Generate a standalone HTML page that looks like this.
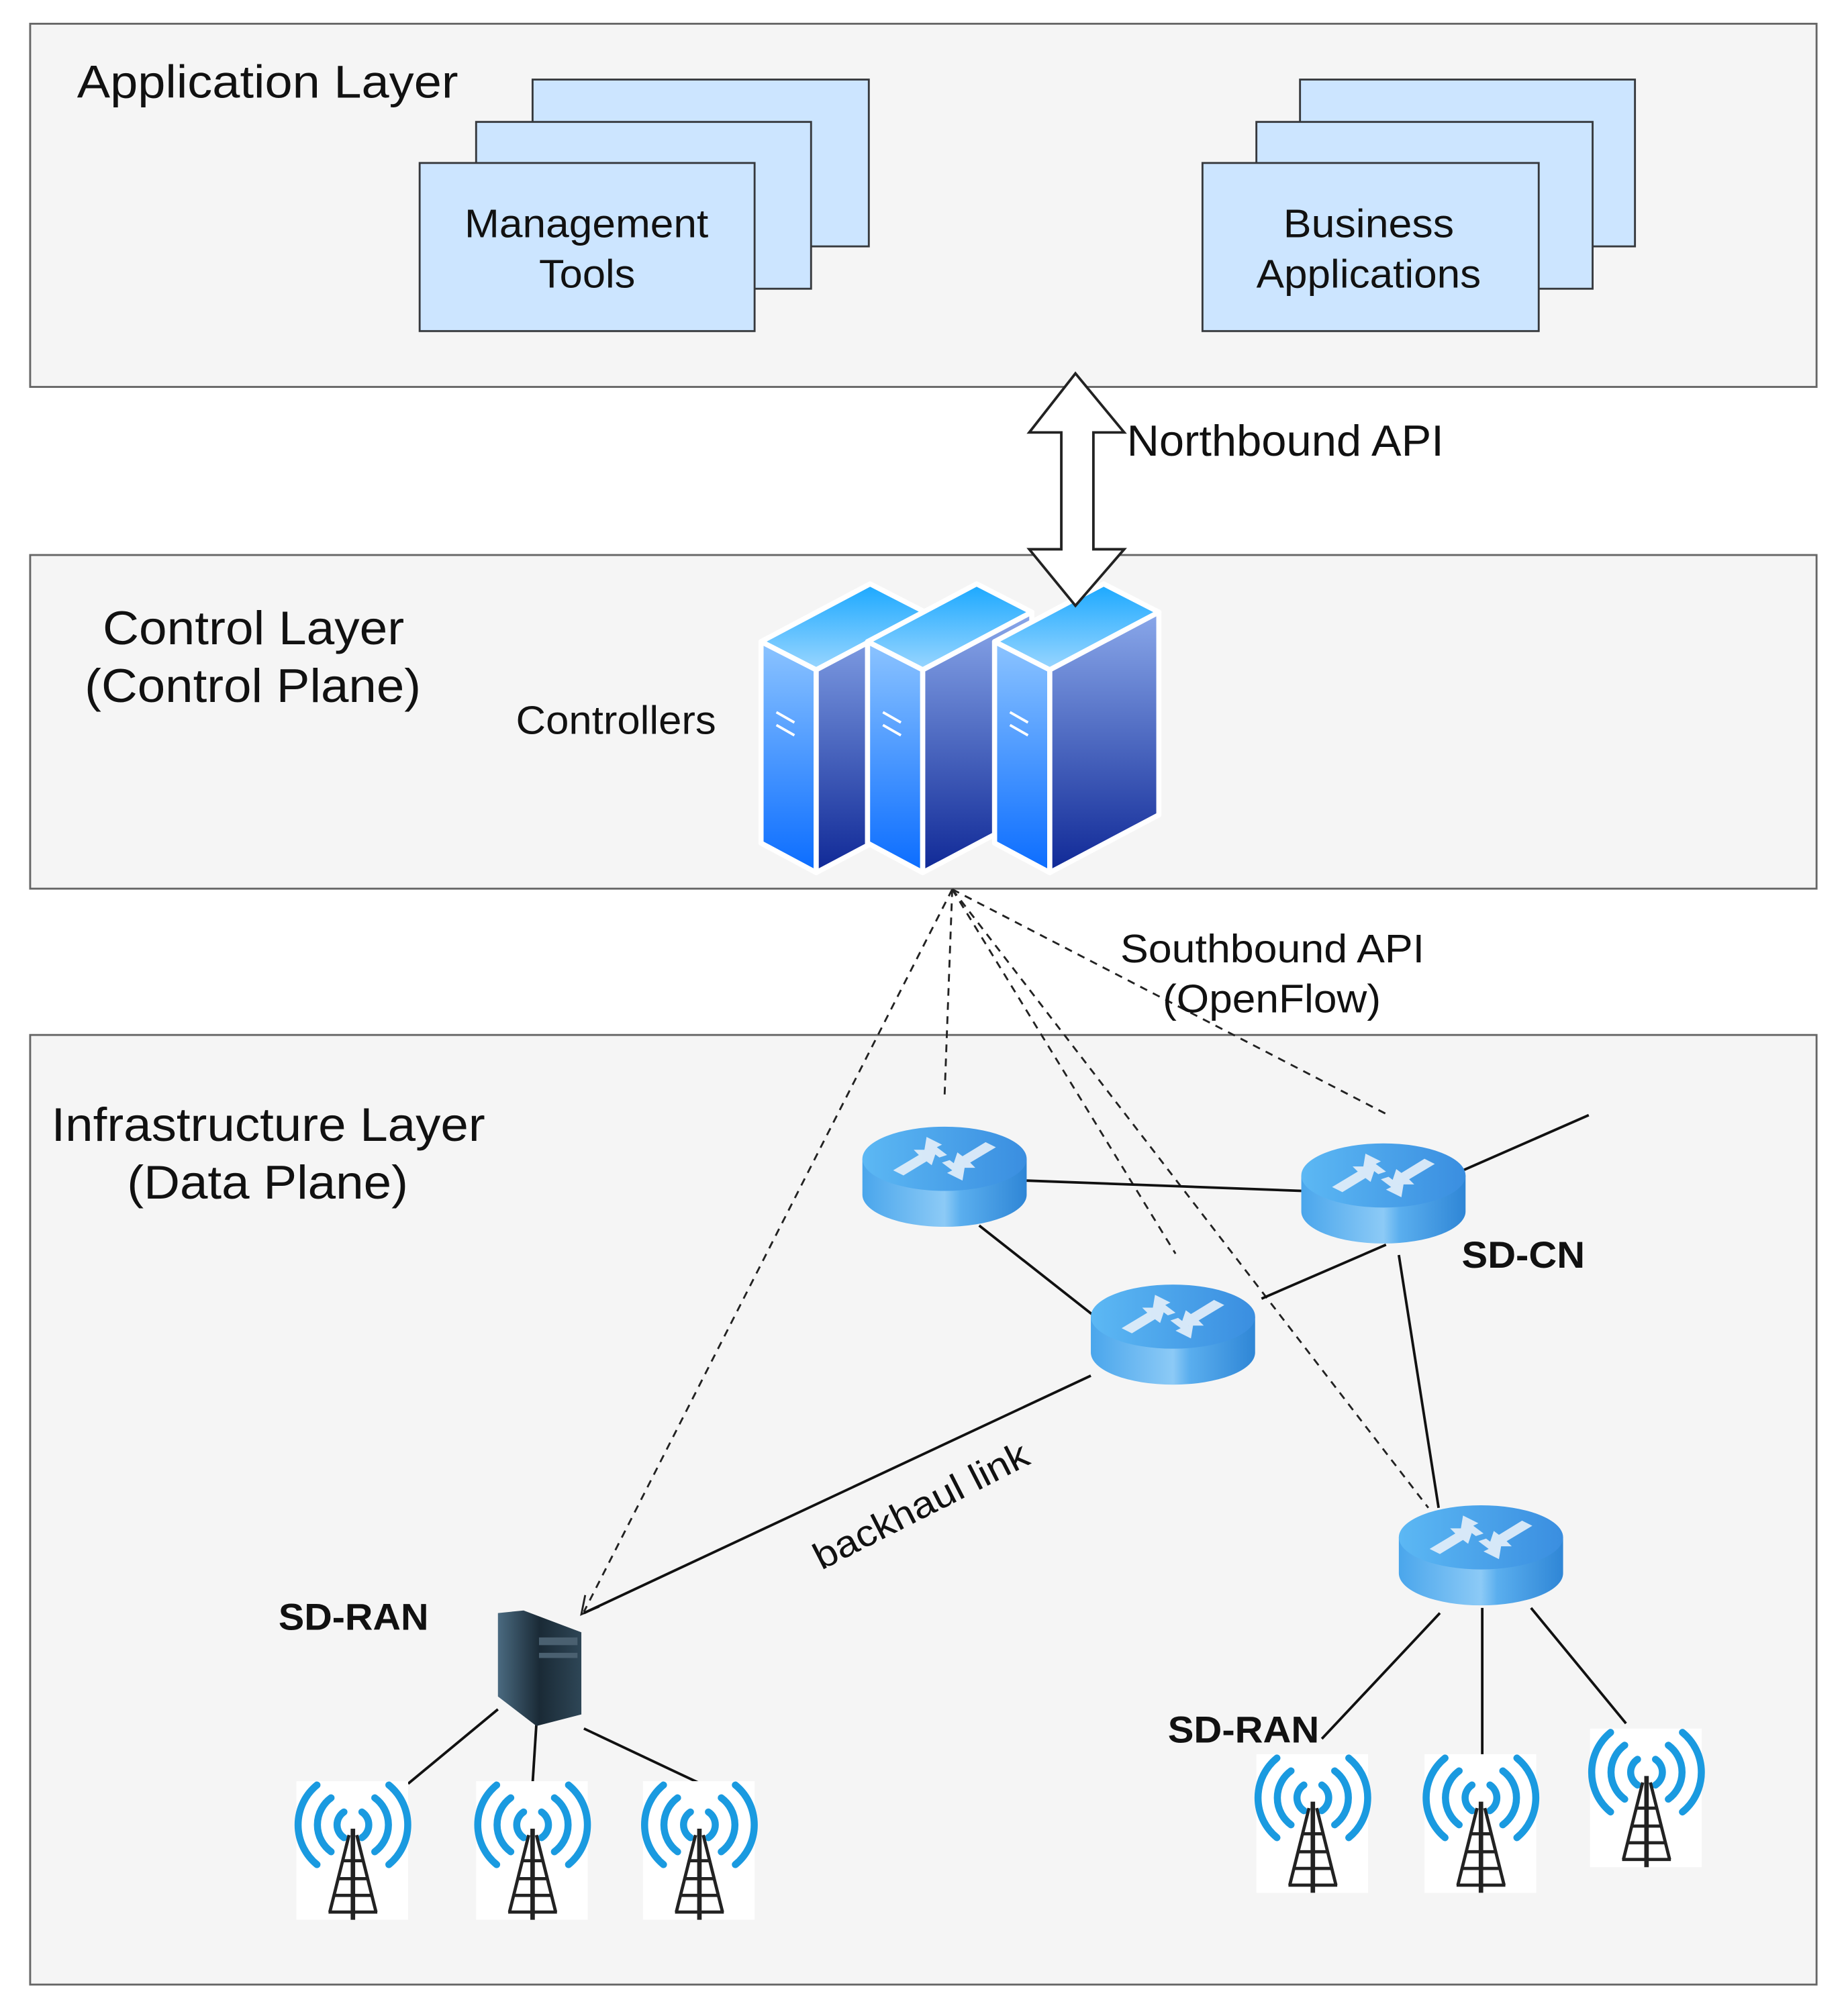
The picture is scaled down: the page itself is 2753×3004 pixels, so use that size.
<!DOCTYPE html>
<html><head><meta charset="utf-8"><style>html,body{margin:0;padding:0;background:#fff}svg{display:block}</style></head>
<body>
<svg width="2753" height="3004" viewBox="0 0 1440 1571" preserveAspectRatio="none" xmlns="http://www.w3.org/2000/svg" font-family="Liberation Sans, Arial, sans-serif">
<defs>
<linearGradient id="sl" x1="0" y1="0" x2="0" y2="1"><stop offset="0" stop-color="#8cc4ff"/><stop offset="1" stop-color="#0a6cff"/></linearGradient>
<linearGradient id="sr" x1="0" y1="0" x2="0" y2="1"><stop offset="0" stop-color="#8aa8ea"/><stop offset="1" stop-color="#0f2896"/></linearGradient>
<linearGradient id="st" x1="0" y1="0" x2="0" y2="1"><stop offset="0" stop-color="#1aa8ff"/><stop offset="1" stop-color="#9ad6ff"/></linearGradient>
<linearGradient id="rb" x1="0" y1="0" x2="1" y2="0"><stop offset="0" stop-color="#4aa6ec"/><stop offset="0.5" stop-color="#8ccaf6"/><stop offset="0.6" stop-color="#5aaeee"/><stop offset="1" stop-color="#2f86d6"/></linearGradient>
<linearGradient id="rt" x1="0" y1="0" x2="1" y2="0"><stop offset="0" stop-color="#5cb8f4"/><stop offset="1" stop-color="#3a8ee0"/></linearGradient>
<linearGradient id="pc" x1="0" y1="0" x2="1" y2="0"><stop offset="0" stop-color="#4a6a80"/><stop offset="0.5" stop-color="#1a2a36"/><stop offset="1" stop-color="#2e4656"/></linearGradient>
<g id="srv">
<polygon points="0,45 85,0 128,22 43,67" fill="url(#st)" stroke="#fff" stroke-width="4" stroke-linejoin="round"/>
<polygon points="0,45 43,67 43,225 0,202" fill="url(#sl)" stroke="#fff" stroke-width="4" stroke-linejoin="round"/>
<polygon points="43,67 128,22 128,180 43,225" fill="url(#sr)" stroke="#fff" stroke-width="4" stroke-linejoin="round"/>
<line x1="12" y1="100" x2="26" y2="108" stroke="#fff" stroke-width="2"/>
<line x1="12" y1="110" x2="26" y2="118" stroke="#fff" stroke-width="2"/>
</g>
<g id="rtr">
<path d="M0,25 L0,53 A64,25 0 0 0 128,53 L128,25 Z" fill="url(#rb)"/>
<ellipse cx="64" cy="25" rx="64" ry="25" fill="url(#rt)"/>
<g fill="#e6f0fa" opacity="0.9">
<polygon points="24,34 44,22 40,18 58,18 54,30 50,27 32,38"/>
<polygon points="104,16 84,28 88,32 70,32 74,20 78,23 96,12"/>
<polygon points="50,8 62,14 58,16 66,22 60,24 52,18 48,20"/>
<polygon points="78,42 66,36 70,34 62,28 68,26 76,32 80,30"/>
</g>
</g>
<g id="twr">
<rect x="0" y="0" width="87" height="108" fill="#fff"/>
<g fill="none" stroke="#1a9ae0" stroke-width="5.5" stroke-linecap="round">
<path d="M37,24 A12,12 0 0 0 37,44"/><path d="M51,24 A12,12 0 0 1 51,44"/>
<path d="M27,13 A26,26 0 0 0 27,55"/><path d="M61,13 A26,26 0 0 1 61,55"/>
<path d="M16,3 A40,40 0 0 0 16,65"/><path d="M72,3 A40,40 0 0 1 72,65"/>
</g>
<g stroke="#222" stroke-width="2.5" fill="none">
<line x1="44" y1="37" x2="44" y2="108" stroke-width="3.5"/>
<line x1="41" y1="42" x2="26" y2="102"/><line x1="47" y1="42" x2="62" y2="102"/>
<line x1="36" y1="62" x2="52" y2="62"/><line x1="33" y1="76" x2="55" y2="76"/><line x1="30" y1="89" x2="58" y2="89"/><line x1="25" y1="102" x2="63" y2="102"/>
</g>
</g>
</defs>
<rect width="1440" height="1571" fill="#fff"/>
<rect x="23.5" y="18.5" width="1392" height="283" fill="#f5f5f5" stroke="#666" stroke-width="1.5"/>
<text x="60" y="76" font-size="36" fill="#111" textLength="297" lengthAdjust="spacingAndGlyphs">Application Layer</text>
<g fill="#cce5ff" stroke="#36393d" stroke-width="1.5">
<rect x="415" y="62" width="262" height="130"/><rect x="371" y="95" width="261" height="130"/><rect x="327" y="127" width="261" height="131"/>
<rect x="1013" y="62" width="261" height="130"/><rect x="979" y="95" width="262" height="130"/><rect x="937" y="127" width="262" height="131"/>
</g>
<g font-size="31" fill="#111" lengthAdjust="spacingAndGlyphs">
<text x="362" y="185" textLength="190" lengthAdjust="spacingAndGlyphs">Management</text><text x="420" y="224" textLength="75" lengthAdjust="spacingAndGlyphs">Tools</text>
<text x="1000" y="185" textLength="133" lengthAdjust="spacingAndGlyphs">Business</text><text x="979" y="224" textLength="175" lengthAdjust="spacingAndGlyphs">Applications</text>
</g>
<rect x="23.5" y="432.5" width="1392" height="260" fill="#f5f5f5" stroke="#666" stroke-width="1.5"/>
<g font-size="37" fill="#111"><text x="80" y="502" textLength="235" lengthAdjust="spacingAndGlyphs">Control Layer</text><text x="66" y="547" textLength="262" lengthAdjust="spacingAndGlyphs">(Control Plane)</text></g>
<text x="402" y="572" font-size="31" fill="#111" textLength="156" lengthAdjust="spacingAndGlyphs">Controllers</text>
<use href="#srv" x="593" y="455"/>
<use href="#srv" x="676" y="455"/>
<use href="#srv" x="775" y="455"/>
<polygon points="838,291 876,337 852,337 852,428 876,428 838,472 802,428 827,428 827,337 802,337" fill="#fff" stroke="#222" stroke-width="2"/>
<text x="878" y="355" font-size="34" fill="#111" textLength="247" lengthAdjust="spacingAndGlyphs">Northbound API</text>
<rect x="23.5" y="806.5" width="1392" height="740" fill="#f5f5f5" stroke="#666" stroke-width="1.5"/>
<g font-size="37" fill="#111"><text x="40" y="889" textLength="338" lengthAdjust="spacingAndGlyphs">Infrastructure Layer</text><text x="99" y="934" textLength="219" lengthAdjust="spacingAndGlyphs">(Data Plane)</text></g>
<g stroke="#222" stroke-width="1.5" stroke-dasharray="6,5" fill="none">
<line x1="742" y1="693" x2="736" y2="855"/>
<line x1="742" y1="693" x2="455" y2="1256"/>
<line x1="742" y1="693" x2="916" y2="977"/>
<line x1="742" y1="693" x2="1113" y2="1175"/>
<line x1="742" y1="693" x2="1080" y2="868"/>
</g>
<polyline points="456,1243 453,1258 467,1252" fill="none" stroke="#222" stroke-width="1.5"/>
<g font-size="31" fill="#111"><text x="873" y="750" textLength="237" lengthAdjust="spacingAndGlyphs">Southbound API</text><text x="906" y="789" textLength="170" lengthAdjust="spacingAndGlyphs">(OpenFlow)</text></g>
<g stroke="#111" stroke-width="2" fill="none">
<line x1="800" y1="920" x2="1014" y2="928"/>
<line x1="763" y1="955" x2="852" y2="1025"/>
<line x1="983" y1="1012" x2="1080" y2="970"/>
<line x1="1140" y1="912" x2="1238" y2="869"/>
<line x1="1090" y1="978" x2="1121" y2="1175"/>
<line x1="850" y1="1072" x2="455" y2="1257"/>
<line x1="1122" y1="1257" x2="1030" y2="1355"/>
<line x1="1155" y1="1253" x2="1155" y2="1368"/>
<line x1="1193" y1="1253" x2="1267" y2="1343"/>
<line x1="388" y1="1332" x2="318" y2="1390"/>
<line x1="418" y1="1343" x2="415" y2="1390"/>
<line x1="455" y1="1347" x2="546" y2="1390"/>
</g>
<text transform="translate(722,1182) rotate(-27)" font-size="29" fill="#111" text-anchor="middle" textLength="184" lengthAdjust="spacingAndGlyphs">backhaul link</text>
<use href="#rtr" x="672" y="878"/>
<use href="#rtr" x="1014" y="891"/>
<use href="#rtr" x="850" y="1001"/>
<use href="#rtr" x="1090" y="1173"/>
<polygon points="388,1257 408,1255 453,1272 453,1336 418,1345 388,1322" fill="url(#pc)"/>
<rect x="420" y="1276" width="30" height="6" fill="#4a6070"/><rect x="420" y="1288" width="30" height="4" fill="#4a6070"/>
<g font-size="29" font-weight="bold" fill="#111">
<text x="217" y="1270" textLength="117" lengthAdjust="spacingAndGlyphs">SD-RAN</text><text x="1139" y="988" textLength="96" lengthAdjust="spacingAndGlyphs">SD-CN</text><text x="910" y="1358" textLength="118" lengthAdjust="spacingAndGlyphs">SD-RAN</text>
</g>
<use href="#twr" x="231" y="1388"/>
<use href="#twr" x="371" y="1388"/>
<use href="#twr" x="501" y="1388"/>
<use href="#twr" x="979" y="1367"/>
<use href="#twr" x="1110" y="1367"/>
<use href="#twr" x="1239" y="1347"/>
</svg>
</body></html>
